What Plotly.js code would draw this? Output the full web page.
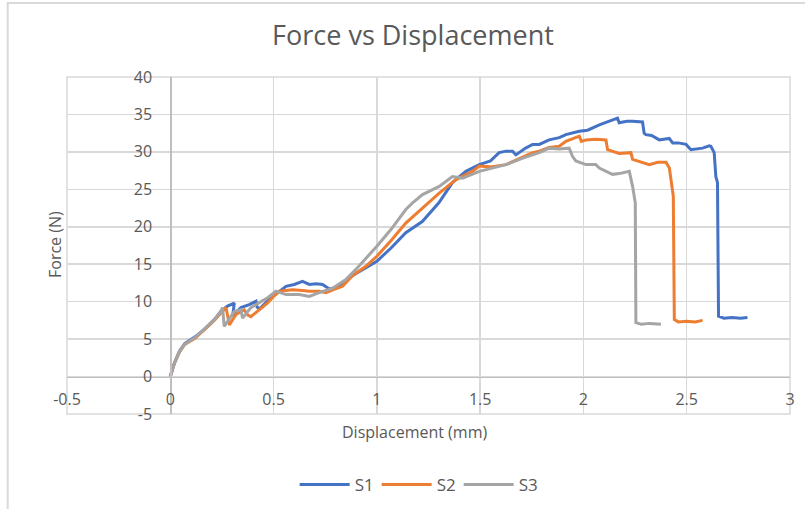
<!DOCTYPE html>
<html>
<head>
<meta charset="utf-8">
<script src="https://cdn.plot.ly/plotly-3.0.1.min.js"></script>
<style>html,body{margin:0;padding:0;background:#fff;}#chart{width:805px;height:509px;}</style>
</head>
<body>
<div id="chart"></div>
<script>
// Series S1 (blue)
const s1X = [0, 0.02, 0.045, 0.07, 0.12, 0.165, 0.213, 0.245, 0.277, 0.31, 0.302, 0.342, 0.382, 0.415, 0.42, 0.431, 0.46, 0.495, 0.53, 0.56, 0.6, 0.64, 0.673, 0.705, 0.737, 0.77, 0.8, 0.834, 0.883, 0.95, 1.0, 1.07, 1.14, 1.22, 1.30, 1.366, 1.431, 1.496, 1.55, 1.592, 1.625, 1.657, 1.673, 1.72, 1.754, 1.786, 1.834, 1.883, 1.915, 1.98, 2.02, 2.077, 2.125, 2.157, 2.165, 2.173, 2.21, 2.238, 2.27, 2.286, 2.294, 2.302, 2.33, 2.367, 2.415, 2.432, 2.46, 2.497, 2.52, 2.55, 2.577, 2.609, 2.617, 2.633, 2.641, 2.649, 2.654, 2.68, 2.72, 2.76, 2.794];
const s1Y = [0, 1.8, 3.4, 4.4, 5.3, 6.3, 7.6, 8.7, 9.4, 9.8, 8.1, 9.2, 9.6, 10.05, 9.3, 9.0, 9.8, 10.7, 11.4, 12.05, 12.3, 12.7, 12.3, 12.4, 12.3, 11.7, 11.9, 12.5, 13.5, 14.6, 15.4, 17.2, 19.2, 20.7, 23.2, 25.9, 27.4, 28.3, 28.8, 29.9, 30.1, 30.1, 29.6, 30.5, 31.0, 31.0, 31.6, 31.9, 32.3, 32.75, 32.9, 33.6, 34.1, 34.5, 34.5, 33.9, 34.1, 34.1, 34.1, 34.0, 32.5, 32.3, 32.2, 31.6, 31.8, 31.2, 31.2, 31.0, 30.3, 30.4, 30.5, 30.8, 30.75, 29.9, 26.7, 25.9, 8.05, 7.8, 7.9, 7.8, 7.9];
// Series S2 (orange)
const s2X = [0, 0.02, 0.045, 0.07, 0.12, 0.165, 0.213, 0.245, 0.27, 0.286, 0.318, 0.358, 0.375, 0.39, 0.431, 0.47, 0.5, 0.528, 0.56, 0.592, 0.64, 0.673, 0.721, 0.754, 0.79, 0.834, 0.883, 0.95, 1.0, 1.07, 1.14, 1.221, 1.302, 1.383, 1.463, 1.496, 1.55, 1.625, 1.7, 1.754, 1.786, 1.834, 1.883, 1.915, 1.98, 1.99, 2.012, 2.06, 2.109, 2.117, 2.173, 2.23, 2.238, 2.27, 2.319, 2.36, 2.4, 2.416, 2.424, 2.435, 2.44, 2.46, 2.5, 2.54, 2.577];
const s2Y = [0, 1.8, 3.3, 4.3, 5.1, 6.2, 7.5, 8.5, 9.2, 6.9, 8.3, 8.9, 8.2, 8.0, 8.9, 9.8, 10.7, 11.4, 11.5, 11.6, 11.5, 11.4, 11.4, 11.2, 11.6, 12.05, 13.5, 14.8, 16.06, 18.2, 20.5, 22.5, 24.5, 26.3, 27.4, 28.1, 28.0, 28.3, 29.2, 29.9, 30.1, 30.6, 30.75, 31.4, 32.1, 31.4, 31.6, 31.7, 31.6, 30.3, 29.8, 29.9, 29.0, 28.7, 28.3, 28.6, 28.6, 27.85, 26.3, 24.1, 7.6, 7.3, 7.4, 7.3, 7.5];
// Series S3 (gray)
const s3X = [0, 0.02, 0.045, 0.07, 0.12, 0.165, 0.213, 0.245, 0.253, 0.261, 0.31, 0.342, 0.35, 0.39, 0.439, 0.475, 0.511, 0.56, 0.624, 0.673, 0.721, 0.786, 0.85, 0.915, 1.0, 1.07, 1.14, 1.173, 1.221, 1.302, 1.366, 1.415, 1.496, 1.56, 1.625, 1.7, 1.786, 1.834, 1.883, 1.931, 1.947, 1.963, 2.012, 2.06, 2.077, 2.125, 2.141, 2.173, 2.222, 2.238, 2.246, 2.251, 2.254, 2.28, 2.32, 2.375];
const s3Y = [0, 1.8, 3.4, 4.3, 5.2, 6.3, 7.6, 8.7, 9.2, 6.7, 8.7, 8.9, 7.8, 9.2, 10.05, 10.6, 11.4, 10.95, 10.95, 10.7, 11.2, 11.8, 12.95, 14.8, 17.4, 19.7, 22.3, 23.2, 24.3, 25.4, 26.7, 26.5, 27.4, 27.8, 28.3, 29.1, 29.9, 30.5, 30.4, 30.5, 29.4, 28.8, 28.3, 28.3, 27.85, 27.2, 27.0, 27.1, 27.4, 25.4, 23.6, 23.2, 7.2, 7.0, 7.1, 7.0];

const seriesNames = ["S1", "S2", "S3"];
const xTickVals = [-0.5, 0, 0.5, 1, 1.5, 2, 2.5, 3];
const xTickText = ["-0.5", "0", "0.5", "1", "1.5", "2", "2.5", "3"];
const yTickVals = [-5, 0, 5, 10, 15, 20, 25, 30, 35, 40];
const yTickText = ["-5", "0", "5", "10", "15", "20", "25", "30", "35", "40"];

const colors = ["#4472C4", "#ED7D31", "#A5A5A5"];
const FONT = "'Open Sans', 'Noto Sans', sans-serif";
const TXT = "#595959";

const xs = [s1X, s2X, s3X];
const ys = [s1Y, s2Y, s3Y];
const traces = seriesNames.map((n, i) => ({
  type: "scatter", mode: "lines", name: n,
  x: xs[i], y: ys[i],
  line: {color: colors[i], width: 3, shape: "linear"}
}));

const layout = {
  width: 805, height: 509,
  margin: {l: 67, r: 15, t: 77, b: 95, autoexpand: false},
  paper_bgcolor: "#ffffff", plot_bgcolor: "#ffffff",
  font: {family: FONT, color: TXT},
  title: {text: "Force vs Displacement", font: {family: FONT, size: 27, color: TXT},
          x: 0.513, xref: "container", xanchor: "center", y: 0.93, yref: "container", yanchor: "middle"},
  showlegend: true,
  legend: {orientation: "h", x: 0.485, xanchor: "center", y: (414-485)/337, yanchor: "middle",
           itemwidth: 50, entrywidth: 17, entrywidthmode: "pixels",
           font: {family: FONT, size: 17, color: TXT}, traceorder: "normal"},
  xaxis: {range: [-0.5, 3], tickvals: xTickVals, ticktext: xTickText, showgrid: true,
          gridcolor: "#d9d9d9", gridwidth: 1.5, zeroline: false, showline: true, linecolor: "#bfbfbf", linewidth: 1.5,
          anchor: "free", position: 5/45, ticks: "", ticklabelstandoff: 8,
          tickfont: {family: FONT, size: 16, color: TXT}, fixedrange: true},
  yaxis: {range: [-5, 40], tickvals: yTickVals, ticktext: yTickText, showgrid: true,
          gridcolor: "#d9d9d9", gridwidth: 1.5, zeroline: false, showline: true, linecolor: "#bfbfbf", linewidth: 1.5,
          anchor: "free", position: 0.5/3.5, ticks: "", ticklabelstandoff: 15,
          tickfont: {family: FONT, size: 16, color: TXT}, fixedrange: true},
  shapes: [
    {type: "rect", xref: "paper", yref: "paper", x0: 0, x1: 1, y0: 0, y1: 1,
     line: {color: "#d9d9d9", width: 1.5}, layer: "below"},
    {type: "rect", xref: "paper", yref: "paper", x0: -0.082, x1: 1.2, y0: -0.3, y1: 1.2196,
     line: {color: "#d9d9d9", width: 2}, layer: "below"}
  ],
  annotations: [
    {text: "Force (N)", xref: "paper", yref: "paper", x: (55-67)/723, y: (414-245)/337,
     textangle: -90, showarrow: false, xanchor: "center", yanchor: "middle",
     font: {family: FONT, size: 16, color: TXT}},
    {text: "Displacement (mm)", xref: "paper", yref: "paper", x: (414-67)/723, y: (414-432)/337,
     showarrow: false, xanchor: "center", yanchor: "middle",
     font: {family: FONT, size: 16, color: TXT}}
  ]
};

Plotly.newPlot("chart", traces, layout, {displayModeBar: false, staticPlot: true});
</script>
</body>
</html>
